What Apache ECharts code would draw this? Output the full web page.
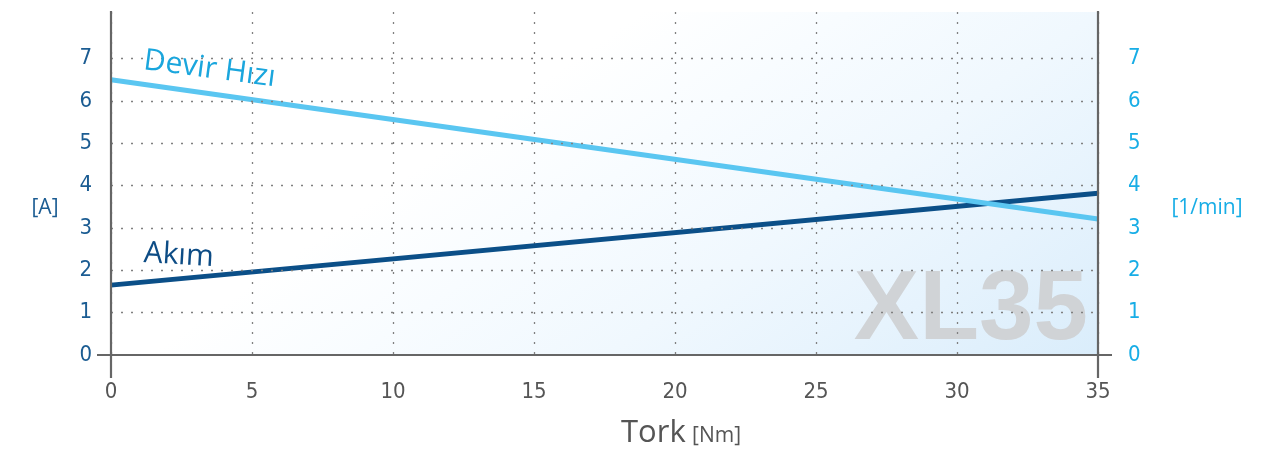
<!DOCTYPE html>
<html><head><meta charset="utf-8">
<script src="https://cdn.jsdelivr.net/npm/echarts@6/dist/echarts.min.js"></script>
<style>html,body{margin:0;padding:0;background:#fff}#c{width:1281px;height:450px}</style>
</head><body><div id="c"></div>
<script>
// Data
const torque = [0, 35];            // Tork [Nm]
const current = [1.65, 3.82];      // Akım [A]
const speed = [6.5, 3.21];         // Devir Hızı [1/min] scale
const gridYValues = [1, 2, 3, 4, 5, 6, 7];
const seriesNames = ['Akım', 'Devir Hızı'];
const watermark = 'XL35';

const DIGIT_FONT = '"Liberation Sans Narrow", "DejaVu Sans Condensed", "Open Sans", sans-serif';
const TEXT_FONT = '"Open Sans", "Noto Sans", sans-serif';
const DOT = [2, 8];

const chart = echarts.init(document.getElementById('c'), null, {renderer: 'canvas'});

const yAxisBase = {
  type: 'value', min: 0, max: 8.1, interval: 1,
  axisLine: {show: false}, axisTick: {show: false}, splitLine: {show: false},
  axisLabel: {formatter: v => (v <= 7 ? String(v) : ''), fontFamily: DIGIT_FONT, fontSize: 22}
};

const option = {
  animation: false,
  grid: {
    left: 111, right: 183, top: 12, bottom: 95, show: true, borderWidth: 0, z: 0,
    backgroundColor: {
      type: 'linear', global: true, x: 111, y: 12, x2: 592, y2: 704,
      colorStops: [
        {offset: 0, color: '#ffffff'},
        {offset: 0.36, color: '#ffffff'},
        {offset: 0.5, color: '#f8fcff'},
        {offset: 0.67, color: '#f0f8fe'},
        {offset: 0.83, color: '#e6f3fd'},
        {offset: 1, color: '#daedfb'}
      ]
    }
  },
  xAxis: {
    type: 'value', min: 0, max: 35, interval: 5, z: 2,
    axisLine: {show: false}, axisTick: {show: false},
    axisLabel: {color: '#555', fontFamily: DIGIT_FONT, fontSize: 22, margin: 26},
    splitLine: {show: true, lineStyle: {color: '#808080', type: DOT, width: 1.3}}
  },
  yAxis: [
    Object.assign({}, yAxisBase, {position: 'left',
      axisLabel: Object.assign({}, yAxisBase.axisLabel, {color: '#1b5c92', margin: 19})}),
    Object.assign({}, yAxisBase, {position: 'right',
      axisLabel: Object.assign({}, yAxisBase.axisLabel, {color: '#17ade6', margin: 30})})
  ],
  series: [
    {
      name: seriesNames[0], type: 'line', yAxisIndex: 0, symbol: 'none', z: 4,
      data: torque.map((x, i) => [x, current[i]]),
      lineStyle: {color: '#0b4f88', width: 5}
    },
    {
      name: seriesNames[1], type: 'line', yAxisIndex: 1, symbol: 'none', z: 4,
      data: torque.map((x, i) => [x, speed[i]]),
      lineStyle: {color: '#5ac6f1', width: 5},
      markLine: {
        silent: true, symbol: 'none', label: {show: false}, animation: false,
        lineStyle: {color: '#808080', type: DOT, width: 1.3},
        data: gridYValues.map(v => ({yAxis: v}))
      }
    }
  ]
};
chart.setOption(option);

const px = (x, y, ax) => chart.convertToPixel({xAxisIndex: 0, yAxisIndex: ax || 0}, [x, y]);
const pO = px(0, 0), pE = px(35, 0), pTop = px(0, 8.1);
const axisStyle = {stroke: '#666', lineWidth: 2.2};
const dev = px(3.5, 6.75, 1), aki = px(2.4, 2.35, 0);

chart.setOption({
  graphic: [
    {type: 'text', z: 1, x: pE[0] - 10, y: pE[1] + 6,
      style: {text: watermark, align: 'right', verticalAlign: 'bottom', fill: '#d0d3d6',
        font: 'bold 98px "Liberation Sans", Arial, sans-serif'}},
    {type: 'line', z: 10, shape: {x1: pO[0], y1: pTop[1] - 1, x2: pO[0], y2: pO[1] + 23}, style: axisStyle},
    {type: 'line', z: 10, shape: {x1: pE[0], y1: pTop[1] - 1, x2: pE[0], y2: pE[1] + 23}, style: axisStyle},
    {type: 'line', z: 10, shape: {x1: pO[0] - 14, y1: pO[1], x2: pE[0] + 14, y2: pE[1]}, style: axisStyle},
    {type: 'text', z: 10, x: dev[0], y: dev[1], rotation: -0.13,
      style: {text: seriesNames[1], align: 'center', verticalAlign: 'middle', fill: '#1aa6dd',
        font: '30px ' + TEXT_FONT}},
    {type: 'text', z: 10, x: aki[0], y: aki[1], rotation: -0.06,
      style: {text: seriesNames[0], align: 'center', verticalAlign: 'middle', fill: '#0d4c85',
        font: '30px ' + TEXT_FONT}},
    {type: 'text', z: 10, x: 45, y: 208,
      style: {text: '[A]', align: 'center', verticalAlign: 'middle', fill: '#1b5c92', font: '21px ' + TEXT_FONT}},
    {type: 'text', z: 10, x: 1207, y: 208,
      style: {text: '[1/min]', align: 'center', verticalAlign: 'middle', fill: '#17ade6', font: '21px ' + TEXT_FONT}},
    {type: 'text', z: 10, x: 681, y: 433,
      style: {text: '{a|Tork} {b|[Nm]}', align: 'center', verticalAlign: 'middle',
        rich: {a: {fontSize: 31, fontFamily: TEXT_FONT, fill: '#555', color: '#555'},
               b: {fontSize: 21, fontFamily: TEXT_FONT, fill: '#555', color: '#555', padding: [6, 0, 0, 3]}}}}
  ]
});
</script>
</body></html>
